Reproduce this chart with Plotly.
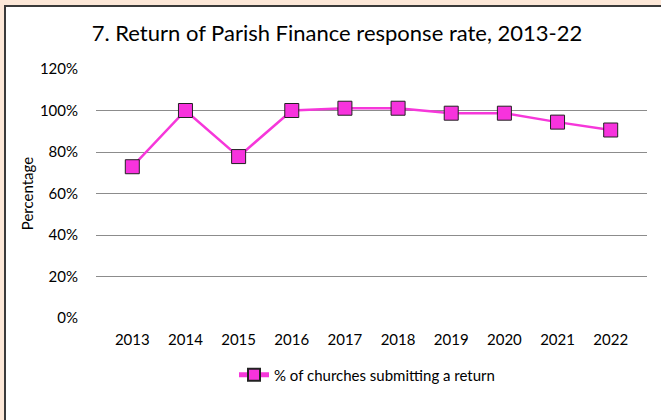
import plotly.graph_objects as go

years = ["2013", "2014", "2015", "2016", "2017", "2018", "2019", "2020", "2021", "2022"]
response_rate = [0.729, 1.000, 0.778, 1.000, 1.011, 1.011, 0.987, 0.987, 0.944, 0.906]
series_name = "% of churches submitting a return"
title_text = "7. Return of Parish Finance response rate, 2013-22"
y_title = "Percentage"

W, H = 661, 420
ML, MR, MT, MB = 96, 14, 69, 102
PW, PH = W - ML - MR, H - MT - MB

def px_x(p):
    return (p - ML) / PW

def px_y(p):
    return (H - MB - p) / PH

FONT = "Lato"

fig = go.Figure()
fig.add_trace(go.Scatter(
    x=years, y=response_rate, name=series_name, mode="lines+markers",
    line=dict(color="#F637DA", width=2.5),
    marker=dict(symbol="square", size=14, color="#F733DD",
                line=dict(color="#222222", width=1)),
))

fig.add_shape(type="rect", xref="paper", yref="paper",
              x0=px_x(5), x1=px_x(700), y0=px_y(460), y1=px_y(6),
              fillcolor="white", line=dict(color="#3a3a3a", width=2), layer="below")

fig.update_layout(
    width=W, height=H,
    margin=dict(l=ML, r=MR, t=MT, b=MB),
    paper_bgcolor="#FDE8D8", plot_bgcolor="white",
    font=dict(family=FONT, color="#000000", size=15),
    title=dict(text=title_text, x=337 / W, xanchor="center", xref="container",
               y=1 - 33 / H, yanchor="middle", yref="container",
               font=dict(size=22, family=FONT, color="#000")),
    showlegend=True,
    legend=dict(orientation="h", x=px_x(234), xanchor="left", y=px_y(375), yanchor="middle",
                itemsizing="constant",
                bgcolor="rgba(0,0,0,0)", font=dict(size=15, family=FONT)),
    xaxis=dict(showgrid=False, showline=False, zeroline=False,
               ticks="outside", ticklen=8, tickcolor="rgba(0,0,0,0)",
               tickfont=dict(size=15)),
    yaxis=dict(range=[0, 1.2], dtick=0.2, tickformat=".0%", showgrid=True,
               gridcolor="#8c8c8c", gridwidth=1, zeroline=False, showline=False,
               ticks="outside", ticklen=14, tickcolor="rgba(0,0,0,0)",
               tickfont=dict(size=15),
               title=dict(text=y_title, font=dict(size=15), standoff=2)),
)

fig.write_html("out.html")
